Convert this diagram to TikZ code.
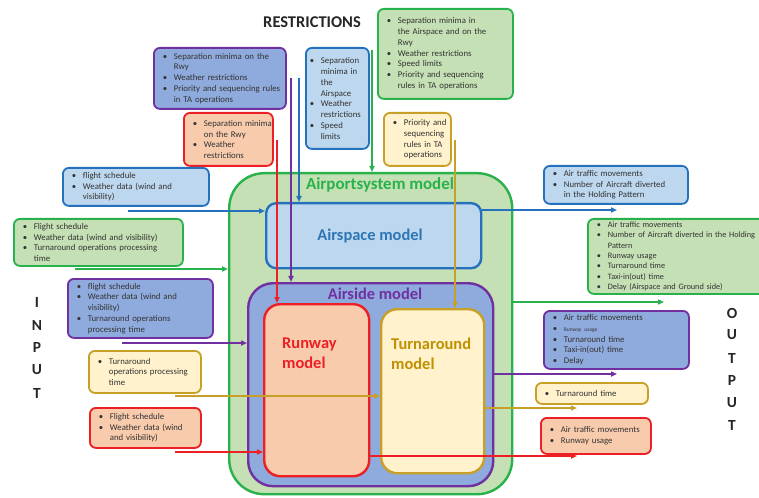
\documentclass[tikz,border=0pt]{standalone}
\usepackage{fontspec}
\setmainfont{Carlito}
\usetikzlibrary{arrows.meta}
\definecolor{gline}{RGB}{40,178,75}
\definecolor{gfill}{RGB}{197,224,180}
\definecolor{bline}{RGB}{36,113,190}
\definecolor{bfill}{RGB}{189,215,238}
\definecolor{pline}{RGB}{112,48,160}
\definecolor{pfill}{RGB}{143,170,220}
\definecolor{rline}{RGB}{236,32,36}
\definecolor{rfill}{RGB}{248,203,173}
\definecolor{yline}{RGB}{200,160,40}
\definecolor{yfill}{RGB}{255,242,204}
\definecolor{ylab}{RGB}{191,144,0}
\definecolor{blab}{RGB}{46,117,182}
\newlength\bind \setlength\bind{15bp}
\newcommand\bl[1]{\makebox[\bind][l]{\hspace{\dimexpr\bind-11bp\relax}\textbullet}\mbox{#1}}
\newcommand\cl[1]{\hspace*{\bind}\mbox{#1}}
\tikzset{
  ibox/.style={draw=#1line, fill=#1fill, line width=1.8bp, rounded corners=6bp,
    inner xsep=5bp, inner ysep=2bp, anchor=north west, align=left,
    text=black!80, font=\fontsize{8.8}{10.8}\selectfont},
  big/.style={draw=#1line, fill=#1fill, line width=2.4bp, anchor=north west, inner sep=0pt},
  ttl/.style={font=\bfseries\fontsize{16.5}{20}\selectfont, inner sep=0pt},
  letter/.style={font=\bfseries\fontsize{15.5}{17}\selectfont, inner sep=0pt, text=black!85},
  arr/.style={draw=#1line, line width=1.8bp, -{Triangle[length=6bp,width=5bp]}},
}
\begin{document}
\begin{tikzpicture}[x=1bp,y=-1bp]
\useasboundingbox (0,0) rectangle (759,498);
\clip (0,0) rectangle (759,498);
\fill[white] (0,0) rectangle (759,498);

% big model boxes
\node[big=g, rounded corners=35bp, minimum width=283bp, minimum height=321bp] (G) at (228,172) {};
\node[big=b, rounded corners=10bp, minimum width=215bp, minimum height=65bp] (A) at (265,202) {};
\node[big=p, rounded corners=25bp, minimum width=245bp, minimum height=203bp] (S) at (247,282) {};
\node[big=r, rounded corners=16bp, minimum width=105bp, minimum height=172bp] (RW) at (263,303) {};
\node[big=y, rounded corners=16bp, minimum width=103bp, minimum height=164bp] (TA) at (380,308) {};

\node[ttl, text=gline, font=\bfseries\fontsize{17}{20}\selectfont] (tG) at (380,185) {Airportsystem model};
\node[ttl, text=blab] (tA) at (370,236) {Airspace model};
\node[ttl, text=pline] (tS) at (375,294) {Airside model};
\node[ttl, text=rline, anchor=north west, align=left] (tR) at (282,338) {Runway\\model};
\node[ttl, text=ylab, anchor=north west, align=left] (tT) at (391,338) {Turnaround\\model};

% headings
\node[letter, font=\bfseries\fontsize{16.5}{18}\selectfont] (restr) at (312,22) {RESTRICTIONS};
\foreach \l/\yy [count=\i] in {I/302,N/325,P/347,U/370,T/393}
  \node[letter] (in\i) at (37,\yy) {\l};
\foreach \l/\yy [count=\i] in {O/313,U/335,T/358,P/380,U/403,T/425}
  \node[letter] (out\i) at (732,\yy) {\l};

% restriction boxes
\node[ibox=p, text width=122bp, minimum height=61bp] (rp) at (153,47)
  {\bl{Separation minima on the}\\\cl{Rwy}\\\bl{Weather restrictions}\\\bl{Priority and sequencing rules}\\\cl{in TA operations}};
\node[ibox=r, text width=79bp, minimum height=53bp] (rr) at (183,112)
  {\bl{Separation minima}\\\cl{on the Rwy}\\\bl{Weather}\\\cl{restrictions}};
\node[ibox=b, inner xsep=4bp, text width=55bp, minimum height=101bp] (rb) at (305,47)
  {\setlength\bind{11bp}\bl{Separation}\\\cl{minima in}\\\cl{the}\\\cl{Airspace}\\\bl{Weather}\\\cl{restrictions}\\\bl{Speed}\\\cl{limits}};
\node[ibox=g, text width=125bp, minimum height=90bp] (rg) at (377,8)
  {\bl{Separation minima in}\\\cl{the Airspace and on the}\\\cl{Rwy}\\\bl{Weather restrictions}\\\bl{Speed limits}\\\bl{Priority and sequencing}\\\cl{rules in TA operations}};
\node[ibox=y, text width=57bp, minimum height=53bp] (ry) at (383,112)
  {\bl{Priority and}\\\cl{sequencing}\\\cl{rules in TA}\\\cl{operations}};

% input boxes
\node[ibox=b, text width=136bp, minimum height=38bp] (ib) at (62,167)
  {\bl{flight schedule}\\\bl{Weather data (wind and}\\\cl{visibility)}};
\node[ibox=g, text width=159bp, minimum height=47bp] (ig) at (13,218)
  {\bl{Flight schedule}\\\bl{Weather data (wind and visibility)}\\\bl{Turnaround operations processing}\\\cl{time}};
\node[ibox=p, text width=135bp, minimum height=59bp] (ip) at (67,278)
  {\bl{flight schedule}\\\bl{Weather data (wind and}\\\cl{visibility)}\\\bl{Turnaround operations}\\\cl{processing time}};
\node[ibox=y, text width=102bp, minimum height=42bp] (iy) at (88,350)
  {\bl{Turnaround}\\\cl{operations processing}\\\cl{time}};
\node[ibox=r, text width=101bp, minimum height=40bp] (ir) at (89,407)
  {\bl{Flight schedule}\\\bl{Weather data (wind}\\\cl{and visibility)}};

% output boxes
\node[ibox=b, text width=134bp, minimum height=38bp] (ob) at (543,165)
  {\bl{Air traffic movements}\\\bl{Number of Aircraft diverted}\\\cl{in the Holding Pattern}};
\node[ibox=g, text width=210bp, minimum height=75bp, font=\fontsize{8.3}{10.4}\selectfont] (og) at (587,218)
  {\bl{Air traffic movements}\\\bl{Number of Aircraft diverted in the Holding}\\\cl{Pattern}\\\bl{Runway usage}\\\bl{Turnaround time}\\\bl{Taxi-in(out) time}\\\bl{Delay (Airspace and Ground side)}};
\node[ibox=p, text width=135bp, minimum height=58bp] (op) at (543,310)
  {\bl{Air traffic movements}\\\bl{\fontsize{5.5}{6}\selectfont Runway usage}\\\bl{Turnaround time}\\\bl{Taxi-in(out) time}\\\bl{Delay}};
\node[ibox=y, text width=102bp, minimum height=21bp] (oy) at (535,382)
  {\bl{Turnaround time}};
\node[ibox=r, text width=100bp, minimum height=36bp] (orr) at (540,417)
  {\bl{Air traffic movements}\\\bl{Runway usage}};

% restriction arrows
\coordinate (sr) at (277,140);
\coordinate (sp) at (291,78);
\coordinate (sb) at (299,78);
\coordinate (sg) at (372,50);
\coordinate (sy) at (455,140);
\draw[arr=r] (sr) -- (sr |- RW.north);
\draw[arr=p] (sp) -- (sp |- S.north);
\draw[arr=b] (sb) -- (sb |- A.north);
\draw[arr=g] (sg) -- (sg |- G.north);
\draw[arr=y] (sy) -- (sy |- TA.north);

% input arrows
\coordinate (ab) at (128,211);
\coordinate (ag) at (75,269);
\coordinate (ap) at (122,343);
\coordinate (ay) at (175,396);
\coordinate (ar) at (175,452);
\draw[arr=b] (ab) -- (ab -| A.west);
\draw[arr=g] (ag) -- (ag -| G.west);
\draw[arr=p] (ap) -- (ap -| S.west);
\draw[arr=y] (ay) -- (ay -| TA.west);
\draw[arr=r] (ar) -- (ar -| RW.west);

% output arrows
\coordinate (eb) at (617,210);
\coordinate (eg) at (664,302);
\coordinate (ep) at (617,374);
\coordinate (ey) at (577,408);
\coordinate (er) at (577,456);
\draw[arr=b] (eb -| A.east) -- (eb);
\draw[arr=g] (eg -| G.east) -- (eg);
\draw[arr=p] (ep -| S.east) -- (ep);
\draw[arr=y] (ey -| TA.east) -- (ey);
\draw[arr=r] (er -| RW.east) -- (er);
\end{tikzpicture}
\end{document}
